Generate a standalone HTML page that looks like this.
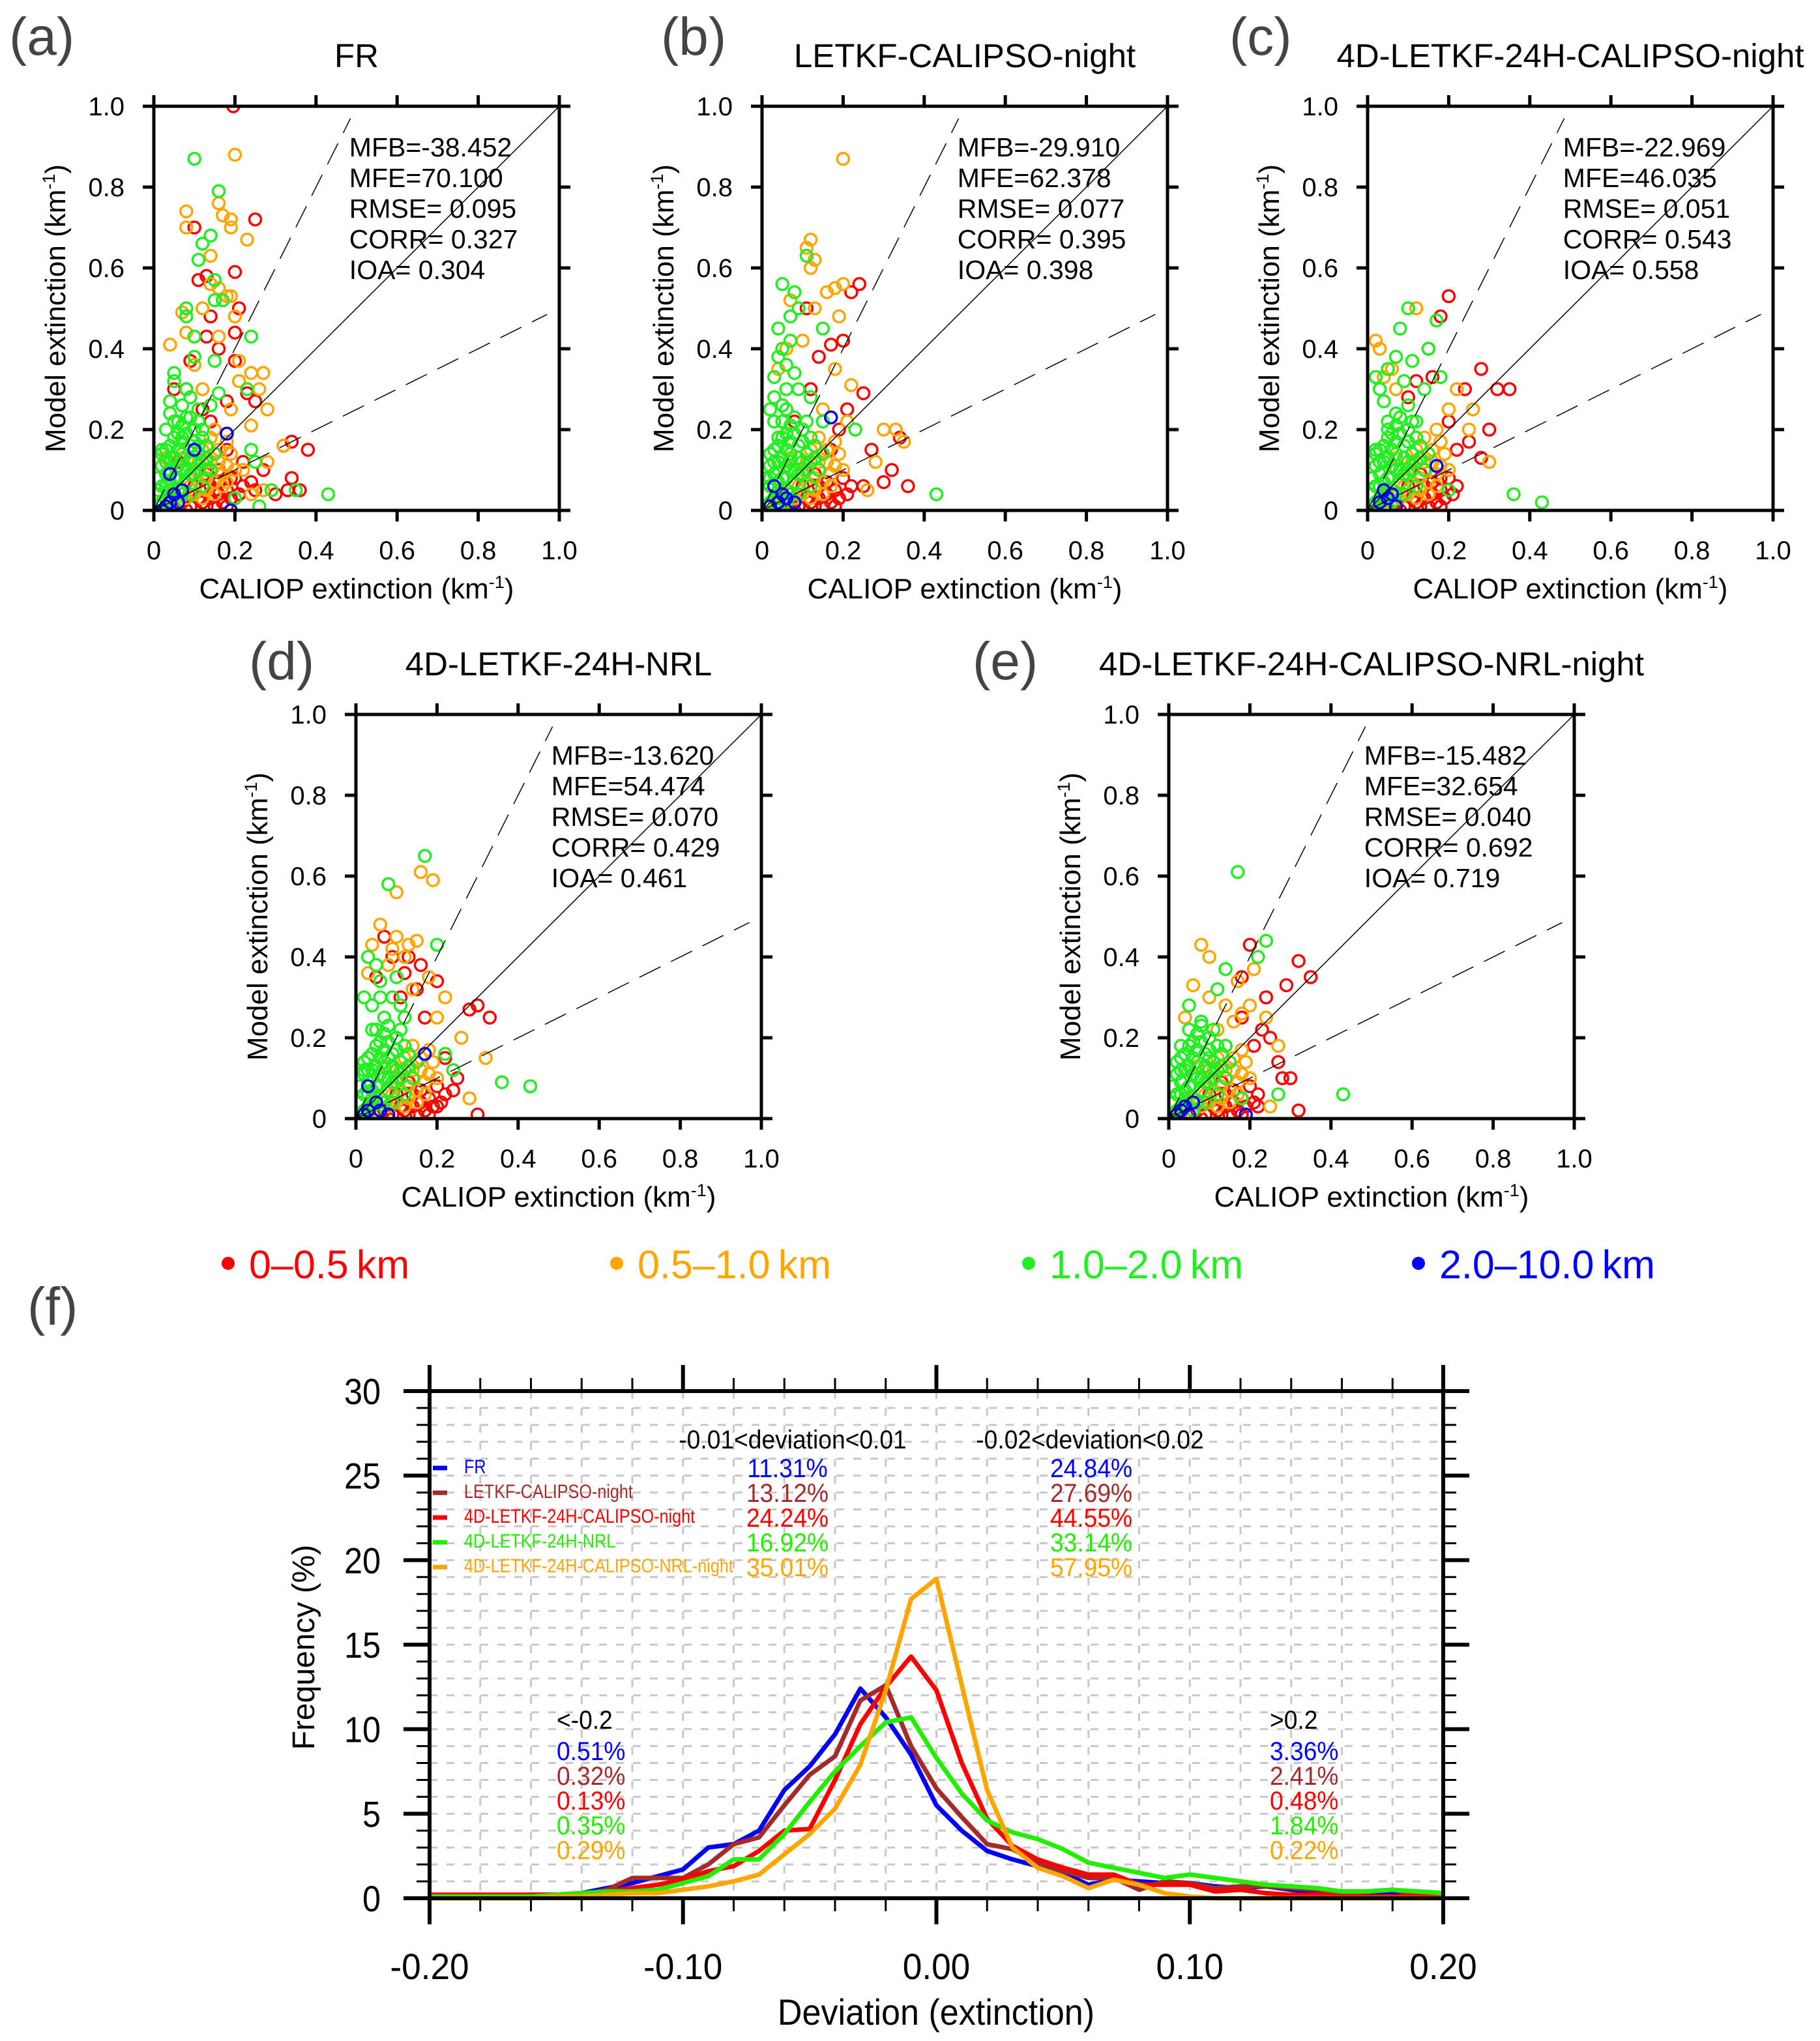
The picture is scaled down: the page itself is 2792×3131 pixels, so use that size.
<!DOCTYPE html>
<html><head><meta charset="utf-8">
<style>
html,body{margin:0;padding:0;background:#fff;}
svg{display:block;font-family:"Liberation Sans",sans-serif;}
</style></head>
<body>
<svg id="fig" xmlns="http://www.w3.org/2000/svg" width="2792" height="3131" viewBox="0 0 2792 3131"></svg>
<script>
// ---------- histogram data ----------
const devBins = [-0.20,-0.19,-0.18,-0.17,-0.16,-0.15,-0.14,-0.13,-0.12,-0.11,-0.10,-0.09,-0.08,-0.07,-0.06,-0.05,-0.04,-0.03,-0.02,-0.01,0.00,0.01,0.02,0.03,0.04,0.05,0.06,0.07,0.08,0.09,0.10,0.11,0.12,0.13,0.14,0.15,0.16,0.17,0.18,0.19,0.20];
const freqFR    = [0.1,0.1,0.2,0.1,0.2,0.2,0.3,0.6,0.9,1.3,1.7,3.0,3.2,4.0,6.4,7.8,9.7,12.4,10.7,8.5,5.5,4.0,2.8,2.3,1.9,1.5,0.8,1.1,1.0,0.9,0.9,0.7,0.6,0.7,0.5,0.3,0.3,0.3,0.3,0.4,0.3];
const freqLETKF = [0.2,0.2,0.2,0.2,0.2,0.2,0.2,0.5,1.2,1.2,1.2,2.0,3.2,3.6,5.5,7.3,8.4,11.7,12.6,9.0,6.5,4.8,3.2,2.9,2.1,1.6,1.2,1.2,0.5,1.0,0.9,0.6,0.7,0.7,0.6,0.5,0.3,0.4,0.5,0.2,0.2];
const freq4D    = [0.2,0.2,0.2,0.2,0.2,0.2,0.3,0.4,0.6,0.8,1.1,1.6,1.9,2.8,4.0,4.1,7.0,10.3,12.5,14.3,12.3,8.0,4.7,3.1,2.3,1.8,1.4,1.4,0.8,0.8,0.8,0.4,0.5,0.3,0.2,0.2,0.1,0.1,0.1,0.1,0.1];
const freqNRL   = [0.1,0.1,0.1,0.1,0.1,0.2,0.3,0.4,0.4,0.5,0.9,1.3,2.3,2.3,3.8,5.7,7.5,9.0,10.4,10.7,8.3,6.2,4.6,3.9,3.5,2.9,2.1,1.8,1.5,1.2,1.4,1.2,1.0,0.8,0.7,0.6,0.4,0.4,0.5,0.4,0.3];
const freqAll   = [0.0,0.0,0.0,0.0,0.0,0.1,0.1,0.2,0.3,0.3,0.5,0.7,1.0,1.4,2.6,3.8,5.3,7.9,12.3,17.7,18.9,12.6,6.4,3.0,1.8,1.3,0.6,1.1,0.8,0.3,0.1,0.0,0.0,0.0,0.0,0.0,0.0,0.0,0.0,0.0,0.0];
const histNames = ["FR","LETKF-CALIPSO-night","4D-LETKF-24H-CALIPSO-night","4D-LETKF-24H-NRL","4D-LETKF-24H-CALIPSO-NRL-night"];
const pctIn01 = ["11.31%","13.12%","24.24%","16.92%","35.01%"];
const pctIn02 = ["24.84%","27.69%","44.55%","33.14%","57.95%"];
const pctLow  = ["0.51%","0.32%","0.13%","0.35%","0.29%"];
const pctHigh = ["3.36%","2.41%","0.48%","1.84%","0.22%"];
const yTicksHist = [0,5,10,15,20,25,30];
const xTicksHist = ["-0.20","-0.10","0.00","0.10","0.20"];

// ---------- scatter data (x = CALIOP, y = model) ----------
const coreRed    = [[0.09,0.01],[0.12,0.02],[0.14,0.03],[0.16,0.04],[0.18,0.05],[0.11,0.03],[0.15,0.01],[0.17,0.02],[0.13,0.09],[0.20,0.08],[0.07,0.02],[0.19,0.03],[0.10,0.06],[0.13,0.01],[0.16,0.07],[0.21,0.04],[0.08,0.00],[0.18,0.01],[0.22,0.06],[0.14,0.06]];
const coreOrange = [[0.06,0.02],[0.10,0.04],[0.13,0.05],[0.15,0.07],[0.17,0.09],[0.11,0.07],[0.08,0.03],[0.14,0.12],[0.16,0.12],[0.18,0.11],[0.12,0.15],[0.19,0.14],[0.03,0.01],[0.07,0.13],[0.10,0.10],[0.12,0.03],[0.15,0.04],[0.17,0.06],[0.20,0.10],[0.13,0.08],[0.16,0.15],[0.09,0.06],[0.05,0.05],[0.14,0.18],[0.18,0.17],[0.11,0.12]];
const coreGreen  = [[0.02,0.02],[0.04,0.03],[0.06,0.05],[0.03,0.06],[0.05,0.08],[0.08,0.07],[0.07,0.10],[0.10,0.09],[0.04,0.12],[0.09,0.13],[0.12,0.12],[0.06,0.15],[0.10,0.17],[0.13,0.16],[0.03,0.09],[0.01,0.04],[0.08,0.19],[0.11,0.22],[0.05,0.18],[0.14,0.10],[0.02,0.11],[0.07,0.21],[0.12,0.06],[0.09,0.04],[0.15,0.14],[0.03,0.15],[0.06,0.11],[0.01,0.08],[0.05,0.01],[0.02,0.06],[0.04,0.07],[0.06,0.08],[0.08,0.10],[0.07,0.14],[0.09,0.16],[0.11,0.14],[0.05,0.13],[0.03,0.12],[0.04,0.16],[0.06,0.19],[0.08,0.23],[0.10,0.20],[0.12,0.18],[0.07,0.04],[0.10,0.12],[0.02,0.14],[0.04,0.05],[0.06,0.02],[0.01,0.01],[0.03,0.03],[0.09,0.09],[0.11,0.10],[0.13,0.13],[0.05,0.22],[0.07,0.17]];

const aRed = [[0.196,1.0],[0.25,0.72],[0.10,0.70],[0.20,0.59],[0.11,0.57],[0.13,0.58],[0.21,0.50],[0.14,0.48],[0.20,0.44],[0.13,0.43],[0.16,0.40],[0.09,0.37],[0.20,0.37],[0.23,0.29],[0.25,0.27],[0.18,0.27],[0.34,0.17],[0.38,0.15],[0.32,0.16],[0.34,0.08],[0.33,0.05],[0.36,0.05],[0.27,0.10],[0.30,0.04],[0.25,0.05],[0.15,0.05],[0.20,0.03],[0.12,0.25],[0.14,0.22],[0.10,0.20],[0.18,0.15],[0.22,0.12],[0.16,0.10],[0.08,0.30],[0.06,0.12],[0.12,0.08],[0.24,0.07],[0.05,0.30],[0.19,0.08]];
const aOrange = [[0.20,0.88],[0.08,0.74],[0.16,0.76],[0.17,0.73],[0.19,0.72],[0.08,0.70],[0.19,0.70],[0.23,0.67],[0.14,0.63],[0.14,0.56],[0.16,0.55],[0.18,0.53],[0.19,0.53],[0.20,0.48],[0.12,0.50],[0.07,0.49],[0.08,0.44],[0.16,0.43],[0.04,0.41],[0.21,0.37],[0.24,0.34],[0.27,0.34],[0.21,0.32],[0.26,0.30],[0.19,0.25],[0.28,0.25],[0.24,0.21],[0.32,0.16],[0.28,0.12],[0.27,0.05],[0.24,0.04],[0.22,0.10],[0.10,0.36],[0.12,0.30],[0.15,0.20],[0.03,0.13],[0.18,0.07],[0.13,0.12],[0.06,0.22]];
const aGreen = [[0.10,0.87],[0.16,0.79],[0.14,0.68],[0.12,0.66],[0.11,0.62],[0.15,0.57],[0.17,0.52],[0.15,0.52],[0.08,0.50],[0.08,0.48],[0.10,0.43],[0.24,0.43],[0.15,0.37],[0.10,0.38],[0.05,0.34],[0.05,0.32],[0.04,0.27],[0.08,0.30],[0.23,0.30],[0.16,0.29],[0.14,0.26],[0.06,0.22],[0.09,0.23],[0.03,0.20],[0.24,0.15],[0.25,0.12],[0.29,0.05],[0.35,0.05],[0.43,0.04],[0.26,0.01],[0.20,0.03],[0.12,0.20],[0.07,0.18],[0.11,0.16],[0.02,0.15],[0.04,0.10],[0.09,0.12],[0.06,0.08],[0.13,0.10],[0.01,0.05],[0.07,0.26],[0.09,0.28],[0.11,0.25],[0.04,0.24]];
const aBlue = [[0.18,0.19],[0.10,0.15],[0.04,0.09],[0.07,0.05],[0.05,0.04],[0.04,0.02],[0.06,0.02],[0.03,0.01],[0.19,0.00],[0.02,0.0]];

const bRed = [[0.24,0.56],[0.22,0.54],[0.11,0.50],[0.20,0.42],[0.17,0.41],[0.14,0.38],[0.25,0.29],[0.21,0.25],[0.34,0.18],[0.32,0.10],[0.30,0.07],[0.36,0.06],[0.25,0.06],[0.19,0.20],[0.12,0.30],[0.17,0.15],[0.27,0.15],[0.08,0.22]];
const bOrange = [[0.20,0.87],[0.12,0.67],[0.11,0.65],[0.13,0.62],[0.12,0.60],[0.20,0.56],[0.18,0.55],[0.16,0.54],[0.07,0.52],[0.13,0.50],[0.19,0.48],[0.06,0.40],[0.22,0.31],[0.18,0.35],[0.33,0.20],[0.35,0.17],[0.30,0.20],[0.28,0.12],[0.26,0.05],[0.21,0.22],[0.15,0.25],[0.10,0.42],[0.04,0.35]];
const bGreen = [[0.11,0.63],[0.05,0.56],[0.08,0.54],[0.09,0.50],[0.07,0.48],[0.04,0.45],[0.05,0.40],[0.06,0.36],[0.03,0.33],[0.09,0.30],[0.12,0.28],[0.15,0.45],[0.43,0.04],[0.23,0.20],[0.02,0.25],[0.04,0.18],[0.10,0.20],[0.15,0.22],[0.07,0.12],[0.02,0.08],[0.03,0.28],[0.06,0.30],[0.04,0.38],[0.07,0.42],[0.05,0.26],[0.08,0.34],[0.03,0.22],[0.06,0.25]];
const bBlue = [[0.17,0.23],[0.03,0.06],[0.05,0.04],[0.06,0.03],[0.04,0.02],[0.02,0.01],[0.08,0.02]];

const cRed = [[0.20,0.53],[0.18,0.48],[0.15,0.40],[0.12,0.32],[0.16,0.33],[0.28,0.35],[0.32,0.30],[0.35,0.30],[0.24,0.30],[0.30,0.20],[0.28,0.13],[0.25,0.17],[0.20,0.22],[0.22,0.15],[0.10,0.28],[0.18,0.08]];
const cOrange = [[0.02,0.42],[0.03,0.40],[0.12,0.50],[0.06,0.35],[0.04,0.33],[0.22,0.30],[0.26,0.25],[0.20,0.25],[0.25,0.20],[0.30,0.12],[0.07,0.30],[0.17,0.20]];
const cGreen = [[0.10,0.50],[0.17,0.47],[0.08,0.45],[0.15,0.40],[0.07,0.38],[0.05,0.35],[0.11,0.37],[0.02,0.33],[0.03,0.30],[0.09,0.32],[0.14,0.30],[0.18,0.33],[0.36,0.04],[0.43,0.02],[0.12,0.22],[0.05,0.20],[0.20,0.05],[0.02,0.15],[0.04,0.27],[0.07,0.24],[0.10,0.26]];
const cBlue = [[0.17,0.11],[0.04,0.05],[0.06,0.04],[0.05,0.03],[0.03,0.02],[0.07,0.01]];

const dRed = [[0.09,0.40],[0.07,0.45],[0.13,0.40],[0.16,0.38],[0.20,0.34],[0.28,0.27],[0.30,0.28],[0.33,0.25],[0.25,0.10],[0.22,0.15],[0.30,0.01],[0.20,0.03],[0.24,0.07],[0.11,0.30],[0.17,0.25],[0.05,0.35],[0.12,0.36],[0.15,0.32]];
const dOrange = [[0.16,0.61],[0.19,0.59],[0.10,0.56],[0.06,0.48],[0.04,0.43],[0.10,0.45],[0.13,0.43],[0.08,0.38],[0.18,0.35],[0.22,0.30],[0.26,0.20],[0.20,0.25],[0.14,0.32],[0.32,0.15],[0.28,0.05],[0.03,0.36],[0.09,0.42],[0.12,0.40],[0.15,0.44]];
const dGreen = [[0.17,0.65],[0.08,0.58],[0.03,0.40],[0.05,0.38],[0.02,0.30],[0.06,0.30],[0.20,0.43],[0.10,0.35],[0.43,0.08],[0.36,0.09],[0.22,0.16],[0.24,0.12],[0.12,0.25],[0.04,0.22],[0.08,0.15],[0.02,0.12],[0.04,0.28],[0.07,0.25],[0.06,0.34],[0.09,0.30],[0.11,0.28]];
const dBlue = [[0.17,0.16],[0.03,0.08],[0.05,0.04],[0.06,0.02],[0.03,0.02],[0.08,0.01],[0.02,0.01]];

const eRed = [[0.20,0.43],[0.32,0.39],[0.35,0.35],[0.29,0.33],[0.24,0.30],[0.18,0.35],[0.25,0.20],[0.30,0.10],[0.28,0.10],[0.32,0.02],[0.22,0.03],[0.18,0.25],[0.27,0.14],[0.21,0.18],[0.23,0.22]];
const eOrange = [[0.08,0.43],[0.10,0.40],[0.21,0.37],[0.17,0.34],[0.06,0.33],[0.10,0.30],[0.14,0.28],[0.20,0.28],[0.24,0.25],[0.27,0.18],[0.25,0.03],[0.12,0.22],[0.04,0.25],[0.18,0.26],[0.16,0.24]];
const eGreen = [[0.17,0.61],[0.24,0.44],[0.22,0.40],[0.14,0.37],[0.12,0.32],[0.05,0.28],[0.08,0.24],[0.43,0.06],[0.27,0.06],[0.18,0.05],[0.03,0.18],[0.10,0.15],[0.14,0.18]];
const eBlue = [[0.19,0.01],[0.06,0.04],[0.04,0.03],[0.03,0.02],[0.02,0.01],[0.05,0.01]];

const scatterTicks = [0,0.2,0.4,0.6,0.8,1.0];
const scatterTickLabels = ["0","0.2","0.4","0.6","0.8","1.0"];
const statsA = ["MFB=-38.452","MFE=70.100","RMSE= 0.095","CORR= 0.327","IOA= 0.304"];
const statsB = ["MFB=-29.910","MFE=62.378","RMSE= 0.077","CORR= 0.395","IOA= 0.398"];
const statsC = ["MFB=-22.969","MFE=46.035","RMSE= 0.051","CORR= 0.543","IOA= 0.558"];
const statsD = ["MFB=-13.620","MFE=54.474","RMSE= 0.070","CORR= 0.429","IOA= 0.461"];
const statsE = ["MFB=-15.482","MFE=32.654","RMSE= 0.040","CORR= 0.692","IOA= 0.719"];

const NS = "http://www.w3.org/2000/svg";
const svg = document.getElementById("fig");
function mk(tag, attrs, parent){
  const e = document.createElementNS(NS, tag);
  for (const k in attrs) e.setAttribute(k, attrs[k]);
  (parent||svg).appendChild(e);
  return e;
}
function txt(s, attrs, parent){ const e = mk("text", attrs, parent); e.textContent = s; return e; }

const C = {red:"#ff0000", orange:"#ffa500", green:"#22ee22", blue:"#0000ff", brown:"#a52a2a"};

const panels = [
  {id:"a", title:"FR", x0:236, y0:163, lab:"(a)", lx:14, ly:84, red:aRed, orange:aOrange, green:aGreen, blue:aBlue, stats:statsA},
  {id:"b", title:"LETKF-CALIPSO-night", x0:1169, y0:163, lab:"(b)", lx:1014, ly:84, red:bRed, orange:bOrange, green:bGreen, blue:bBlue, stats:statsB},
  {id:"c", title:"4D-LETKF-24H-CALIPSO-night", x0:2098, y0:163, lab:"(c)", lx:1886, ly:84, red:cRed, orange:cOrange, green:cGreen, blue:cBlue, stats:statsC},
  {id:"d", title:"4D-LETKF-24H-NRL", x0:546, y0:1096, lab:"(d)", lx:382, ly:1042, red:dRed, orange:dOrange, green:dGreen, blue:dBlue, stats:statsD},
  {id:"e", title:"4D-LETKF-24H-CALIPSO-NRL-night", x0:1793, y0:1096, lab:"(e)", lx:1492, ly:1042, red:eRed, orange:eOrange, green:eGreen, blue:eBlue, stats:statsE}
];

const W = 622, H = 620;
panels.forEach(p => {
  const g = mk("g", {});
  
  
  const sx = v => p.x0 + v * W;
  const sy = v => p.y0 + H - v * H;

  const lab = txt(p.lab, {x:p.lx, y:p.ly, "font-size":82, fill:"#444"}, g);
  
  
  const t = txt(p.title, {x:p.x0 + W/2, y:p.y0 - 60, "font-size":51, "text-anchor":"middle"}, g);
  
  

  const clip = mk("clipPath", {id:"clip"+p.id}, g);
  mk("rect", {x:p.x0, y:p.y0, width:W, height:H}, clip);
  const pts = mk("g", {"clip-path":"url(#clip"+p.id+")"}, g);
  
  
  const series = [["red", coreRed.concat(p.red)], ["orange", coreOrange.concat(p.orange)], ["green", coreGreen.concat(p.green)], ["blue", p.blue]];
  series.forEach(([col, arr]) => {
    arr.forEach(d => {
      const c = mk("circle", {cx:sx(d[0]), cy:sy(d[1]), r:9, fill:"none", stroke:C[col], "stroke-width":3.5}, pts);
      
      
    });
  });

  const l1 = mk("line", {x1:sx(0), y1:sy(0), x2:sx(1), y2:sy(1), stroke:"#000", "stroke-width":1.5}, g);
  
  
  const l2 = mk("line", {x1:sx(0), y1:sy(0), x2:sx(0.485), y2:sy(0.97), stroke:"#000", "stroke-width":1.5, "stroke-dasharray":"36 18"}, g);
  
  
  const l3 = mk("line", {x1:sx(0), y1:sy(0), x2:sx(0.97), y2:sy(0.485), stroke:"#000", "stroke-width":1.5, "stroke-dasharray":"36 18"}, g);
  
  

  p.stats.forEach((s, i) => {
    const st = txt(s, {x:sx(0.482), y:sy(0.90) + 15 + i*47, "font-size":41}, g);
    
    
  });

  const box = mk("rect", {x:p.x0, y:p.y0, width:W, height:H, fill:"none", stroke:"#000", "stroke-width":5}, g);
  
  
  scatterTicks.forEach((v, i) => {
    mk("line", {x1:p.x0-17, y1:sy(v), x2:p.x0, y2:sy(v), stroke:"#000", "stroke-width":5}, g);
    mk("line", {x1:p.x0+W, y1:sy(v), x2:p.x0+W+17, y2:sy(v), stroke:"#000", "stroke-width":5}, g);
    mk("line", {x1:sx(v), y1:p.y0+H, x2:sx(v), y2:p.y0+H+17, stroke:"#000", "stroke-width":5}, g);
    mk("line", {x1:sx(v), y1:p.y0-17, x2:sx(v), y2:p.y0, stroke:"#000", "stroke-width":5}, g);
    const yl = txt(scatterTickLabels[i], {x:p.x0-45, y:sy(v)+14, "font-size":40, "text-anchor":"end"}, g);
    
    
    const xl = txt(scatterTickLabels[i], {x:sx(v), y:p.y0+H+75, "font-size":40, "text-anchor":"middle"}, g);
    
    
  });
  const xt = mk("text", {x:p.x0+W/2, y:p.y0+H+135, "font-size":44, "text-anchor":"middle"}, g);
  xt.innerHTML = 'CALIOP extinction (km<tspan dy="-16" font-size="27">-1</tspan><tspan dy="16">)</tspan>';
  
  
  const yt = mk("text", {x:0, y:0, "font-size":44, "text-anchor":"middle", transform:"translate("+(p.x0-136)+","+(p.y0+H/2)+") rotate(-90)"}, g);
  yt.innerHTML = 'Model extinction (km<tspan dy="-16" font-size="27">-1</tspan><tspan dy="16">)</tspan>';
  
  
});

// ---------- height legend ----------
const legLabels = ["0\u20130.5\u2009km","0.5\u20131.0\u2009km","1.0\u20132.0\u2009km","2.0\u201310.0\u2009km"];
const legColors = ["red","orange","green","blue"];
const legX = [350, 946, 1578, 2176];
const legG = mk("g", {});


legLabels.forEach((s, i) => {
  const d = mk("circle", {cx:legX[i], cy:1938, r:10, fill:C[legColors[i]]}, legG);
  
  
  const t = txt(s, {x:legX[i]+32, y:1961, "font-size":61, fill:C[legColors[i]]}, legG);
  
  
});

// ---------- histogram ----------
const hx0 = 659, hx1 = 2214, hy0 = 2134, hy1 = 2912;
const hxs = v => hx0 + (v + 0.2) / 0.4 * (hx1 - hx0);
const hys = v => hy1 - v / 30 * (hy1 - hy0);
const hg = mk("g", {});


const fl = txt("(f)", {x:42, y:2032, "font-size":82, fill:"#444"}, hg);



for (let k = 1; k < 30; k++) {
  mk("line", {x1:hx0, y1:hys(k), x2:hx1, y2:hys(k), stroke:"#c8c8c8", "stroke-width":3, "stroke-dasharray":"12 14"}, hg);
}
for (let k = 1; k < 20; k++) {
  const v = -0.2 + k*0.02;
  mk("line", {x1:hxs(v), y1:hy0, x2:hxs(v), y2:hy1, stroke:"#c8c8c8", "stroke-width":3, "stroke-dasharray":"12 14"}, hg);
}
function narrow(s, x, y, size, fill, anchor, parent, name, sc){
  const t = txt(s, {x:0, y:0, "font-size":size, fill:fill, "text-anchor":anchor||"start", transform:"translate("+x+","+y+") scale("+(sc||0.8)+",1)"}, parent);
  
  
  return t;
}
const histSeries = [freqFR, freqLETKF, freq4D, freqNRL, freqAll];
const histCols = [C.blue, C.brown, C.red, "#22ee00", C.orange];
[0,1,2,3,4].forEach(si => {
  const d = devBins.map((b, i) => (i ? "L" : "M") + hxs(b).toFixed(1) + " " + hys(histSeries[si][i]).toFixed(1)).join(" ");
  const p = mk("path", {d:d, fill:"none", stroke:histCols[si], "stroke-width":7, "stroke-linejoin":"round"}, hg);
  
  
});
const hf = mk("rect", {x:hx0, y:hy0, width:hx1-hx0, height:hy1-hy0, fill:"none", stroke:"#000", "stroke-width":6}, hg);


for (let k = 0; k <= 30; k++) {
  const major = k % 5 === 0;
  const L = major ? 40 : 20, w = major ? 6 : 3;
  mk("line", {x1:hx0-L, y1:hys(k), x2:hx0, y2:hys(k), stroke:"#000", "stroke-width":w}, hg);
  mk("line", {x1:hx1, y1:hys(k), x2:hx1+L, y2:hys(k), stroke:"#000", "stroke-width":w}, hg);
}
for (let k = 0; k <= 20; k++) {
  const v = -0.2 + k*0.02;
  const major = k % 5 === 0;
  const L = major ? 40 : 20, w = major ? 6 : 3;
  mk("line", {x1:hxs(v), y1:hy1, x2:hxs(v), y2:hy1+L, stroke:"#000", "stroke-width":w}, hg);
  mk("line", {x1:hxs(v), y1:hy0-L, x2:hxs(v), y2:hy0, stroke:"#000", "stroke-width":w}, hg);
}
yTicksHist.forEach(v => narrow(String(v), 584, hys(v)+20, 56, "#000", "end", hg, 'y-tick-label', 0.9));
xTicksHist.forEach((s, i) => narrow(s, hxs(-0.2 + i*0.1), 3036, 56, "#000", "middle", hg, 'x-tick-label', 0.95));
const hyT = txt("Frequency (%)", {x:0, y:0, "font-size":48, "text-anchor":"middle", transform:"translate(482,2527) rotate(-90)"}, hg);


narrow("Deviation (extinction)", 1436, 3106, 56, "#000", "middle", hg, 'x-axis-title', 0.93);

narrow("-0.01<deviation<0.01", 1216, 2222, 40, "#000", "middle", hg, 'range-header-001', 0.93);
narrow("-0.02<deviation<0.02", 1672, 2222, 40, "#000", "middle", hg, 'range-header-002', 0.93);
const rowY = [2260, 2298, 2336, 2374, 2412];
histNames.forEach((n, i) => {
  const lm = mk("line", {x1:664, y1:rowY[i]-8, x2:686, y2:rowY[i]-8, stroke:histCols[i], "stroke-width":7}, hg);
  
  
  narrow(n, 712, rowY[i], 30, histCols[i], "start", hg, 'legend-entry', 0.84);
  narrow(pctIn01[i], 1208, rowY[i]+6, 40, histCols[i], "middle", hg, 'pct-within-001', 0.93);
  narrow(pctIn02[i], 1674, rowY[i]+6, 40, histCols[i], "middle", hg, 'pct-within-002', 0.93);
});
narrow("<-0.2", 854, 2652, 40, "#000", "start", hg, 'low-tail-header', 0.93);
narrow(">0.2", 1948, 2652, 40, "#000", "start", hg, 'high-tail-header', 0.93);
const tailY = [2700, 2738, 2776, 2814, 2852];
pctLow.forEach((s, i) => narrow(s, 854, tailY[i], 40, histCols[i], "start", hg, 'pct-low-tail', 0.93));
pctHigh.forEach((s, i) => narrow(s, 1948, tailY[i], 40, histCols[i], "start", hg, 'pct-high-tail', 0.93));
</script>
</body></html>
